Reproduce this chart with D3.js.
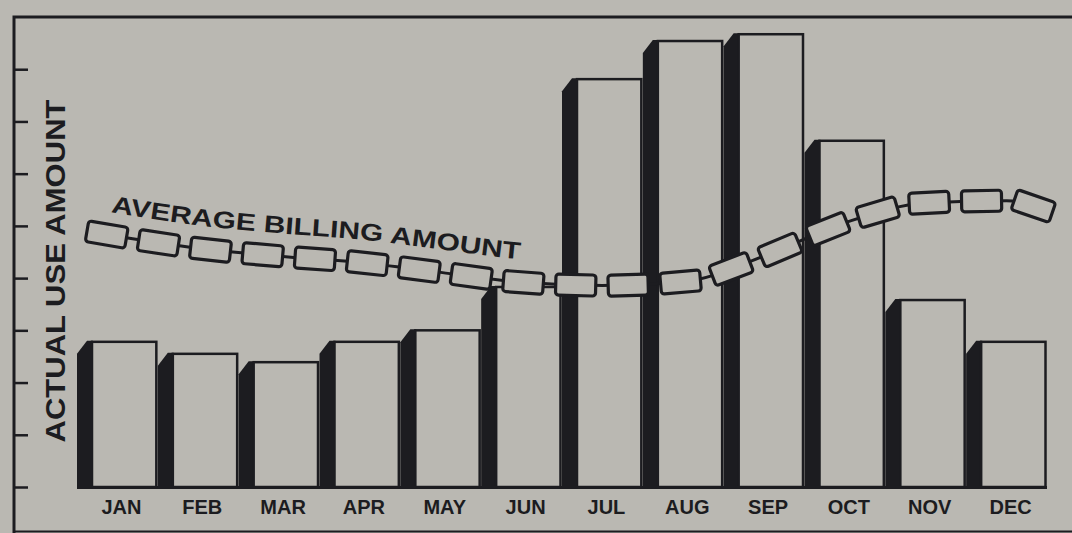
<!DOCTYPE html>
<meta charset="utf-8">
<style>
  html, body { margin: 0; padding: 0; background: #bab8b2; }
  svg { display: block; font-family: "Liberation Sans", Arial, sans-serif; }
</style>
<script src="https://d3js.org/d3.v7.min.js"></script>
<body>
<svg id="chart" width="1072" height="533"></svg>
<script>
  var months = ["JAN", "FEB", "MAR", "APR", "MAY", "JUN", "JUL", "AUG", "SEP", "OCT", "NOV", "DEC"];
  var actualUse = [2.78, 2.55, 2.39, 2.78, 3.0, 3.83, 7.81, 8.54, 8.67, 6.63, 3.58, 2.78];
  var averageBilling = [4.80, 4.57, 4.42, 4.30, 4.11, 3.92, 3.86, 3.93, 4.42, 5.06, 5.44, 5.48];
  var billingEnds = [4.90, 5.24]; // where the chain begins and ends, before JAN and after DEC
  var yTicks = [0, 1, 2, 3, 4, 5, 6, 7, 8];

  var ink = "#1c1c20";
  var paper = "#bab8b2";

  var svg = d3.select("#chart");

  var x = d3.scaleBand().domain(months).range([77, 1047]).padding(0);
  var y = d3.scaleLinear().domain([0, 9]).range([487, 17]);
  var bw = x.bandwidth();
  var shadowW = 15;

  // frame
  svg.append("path")
    .attr("d", "M14,533 L14,17 L1072,17")
    .attr("fill", "none").attr("stroke", ink).attr("stroke-width", 3);
  svg.append("line")
    .attr("x1", 14).attr("x2", 1072).attr("y1", 531.5).attr("y2", 531.5)
    .attr("stroke", ink).attr("stroke-width", 2);

  // left ticks
  var axis = d3.axisRight(y).tickValues(yTicks).tickSize(14).tickFormat("");
  var ag = svg.append("g").attr("transform", "translate(14,0)").call(axis);
  ag.select(".domain").remove();
  ag.selectAll(".tick line").attr("stroke", ink).attr("stroke-width", 2.5);

  // bars: dark shadow on the left, outlined face
  var bars = svg.append("g");
  months.forEach(function(m, i) {
    var x0 = x(m);
    var top = y(actualUse[i]);
    var base = y(0);
    bars.append("path")
      .attr("d", "M" + x0 + "," + (base + 1) +
                 " L" + x0 + "," + (top + 12) +
                 " L" + (x0 + 10) + "," + (top - 1) +
                 " L" + (x0 + shadowW + 1) + "," + (top - 1) +
                 " L" + (x0 + shadowW + 1) + "," + (base + 1) + "Z")
      .attr("fill", ink);
    bars.append("rect")
      .attr("x", x0 + shadowW).attr("y", top)
      .attr("width", bw - shadowW - 1.5).attr("height", base - top)
      .attr("fill", paper).attr("stroke", ink).attr("stroke-width", 2.5);
  });
  svg.append("line")
    .attr("x1", 77).attr("x2", 1047).attr("y1", y(0) + 0.5).attr("y2", y(0) + 0.5)
    .attr("stroke", ink).attr("stroke-width", 3);

  // month labels
  svg.append("g").selectAll("text")
    .data(months).join("text")
    .attr("x", function(d) { return x(d) + bw / 2 + 4; })
    .attr("y", 514)
    .attr("text-anchor", "middle")
    .attr("font-size", 20).attr("font-weight", "bold").attr("fill", ink)
    .text(function(d) { return d; });

  // y label
  svg.append("text")
    .attr("transform", "translate(65,271) rotate(-90)")
    .attr("text-anchor", "middle")
    .attr("font-size", 27).attr("font-weight", "bold").attr("fill", ink)
    .attr("textLength", 343).attr("lengthAdjust", "spacingAndGlyphs")
    .text("ACTUAL USE AMOUNT");

  // average billing chain
  var pts = [[x(months[0]) + 10, billingEnds[0]]];
  months.forEach(function(m, i) { pts.push([x(m) + bw / 2, averageBilling[i]]); });
  pts.push([x(months[11]) + bw + 5, billingEnds[1]]);

  var line = d3.line().x(function(d) { return d[0]; }).y(function(d) { return y(d[1]); })
    .curve(d3.curveMonotoneX);
  var textLine = d3.line().x(function(d) { return d[0]; }).y(function(d) { return y(d[1]) - 23; })
    .curve(d3.curveMonotoneX);

  var chain = svg.append("g");
  var guide = chain.append("path")
    .attr("d", line(pts))
    .attr("fill", "none").attr("stroke", ink).attr("stroke-width", 3);

  var L = guide.node().getTotalLength();
  var linkW = 40, linkH = 21;
  var n = Math.round((L - linkW) / 52.5) + 1;
  var gap = (L - linkW) / (n - 1);
  d3.range(n).forEach(function(k) {
    var s = linkW / 2 + k * gap;
    var p = guide.node().getPointAtLength(s);
    var a = guide.node().getPointAtLength(Math.max(0, s - 2));
    var b = guide.node().getPointAtLength(Math.min(L, s + 2));
    var ang = Math.atan2(b.y - a.y, b.x - a.x) * 180 / Math.PI;
    chain.append("rect")
      .attr("x", -linkW / 2).attr("y", -linkH / 2)
      .attr("width", linkW).attr("height", linkH)
      .attr("rx", 3)
      .attr("transform", "translate(" + p.x + "," + p.y + ") rotate(" + ang + ")")
      .attr("fill", paper).attr("stroke", ink).attr("stroke-width", 3.2);
  });

  svg.append("defs").append("path")
    .attr("id", "textcurve")
    .attr("d", textLine(pts));
  svg.append("text")
    .attr("font-size", 24).attr("font-weight", "bold").attr("fill", ink)
    .append("textPath")
    .attr("href", "#textcurve")
    .attr("startOffset", 24)
    .attr("textLength", 412).attr("lengthAdjust", "spacingAndGlyphs")
    .text("AVERAGE BILLING AMOUNT");
</script>
</body>
